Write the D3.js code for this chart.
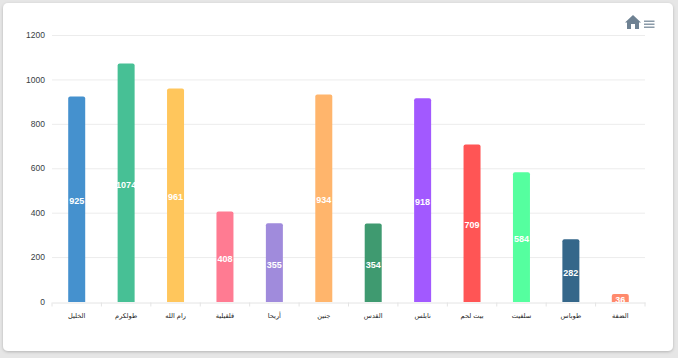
<!DOCTYPE html>
<html>
<head>
<meta charset="utf-8">
<script src="https://cdn.jsdelivr.net/npm/d3@7"></script>
<style>
  html, body { margin: 0; padding: 0; background: #e6e6e6; overflow: hidden; }
  svg { display: block; }
</style>
</head>
<body>
<div id="container"></div>
<script>
//data
let categories = ["الخليل", "طولكرم", "رام الله", "قلقيلية", "أريحا", "جنين", "القدس", "نابلس", "بيت لحم", "سلفيت", "طوباس", "الضفة"];
let values = [925, 1074, 961, 408, 355, 934, 354, 918, 709, 584, 282, 36];
let colors = ["#4591ce", "#47c095", "#ffc65c", "#ff7b92", "#a08bdc", "#ffb56c", "#3f9a70", "#a259ff", "#ff5555", "#55ff9f", "#35678a", "#ff8a6c"];
let yTicks = [0, 200, 400, 600, 800, 1000, 1200];

//settings
let w = 678;
let h = 358;

let viz = d3.select("#container")
  .append("svg")
    .attr("width", w)
    .attr("height", h)
;

//card with its soft shadow
let defs = viz.append("defs");
let shadow = defs.append("filter").attr("id", "cardShadow")
  .attr("x", "-5%").attr("y", "-5%").attr("width", "110%").attr("height", "110%");
shadow.append("feDropShadow")
  .attr("dx", 0).attr("dy", 1).attr("stdDeviation", 1.5)
  .attr("flood-color", "#000").attr("flood-opacity", 0.22);

viz.append("rect")
  .attr("x", 3)
  .attr("y", 3)
  .attr("width", 670)
  .attr("height", 348)
  .attr("rx", 5)
  .attr("fill", "white")
  .attr("filter", "url(#cardShadow)")
;

//scales
let xScale = d3.scaleBand()
    .domain(categories)
    .range([52, 645])
;
let yScale = d3.scaleLinear().domain([0, 1200]).range([302, 35.5]);

//grid lines
viz.append("g").selectAll("line").data(yTicks.slice(1)).enter()
  .append("line")
    .attr("x1", 52)
    .attr("x2", 645)
    .attr("y1", function(d){ return yScale(d); })
    .attr("y2", function(d){ return yScale(d); })
    .attr("stroke", "#ececec")
    .attr("stroke-width", 1)
;

//y axis labels
let yAxis = d3.axisLeft(yScale).tickValues(yTicks).tickSize(0).tickPadding(7).tickFormat(d3.format("d"));
let yAxisGroup = viz.append("g").attr("transform", "translate(52,-0.5)").call(yAxis);
yAxisGroup.select(".domain").remove();
yAxisGroup.selectAll("text")
  .attr("font-family", "'Liberation Sans', Arial, sans-serif")
  .attr("font-size", 8.5)
  .attr("fill", "#373d3f");

//x axis
let xAxis = d3.axisBottom(xScale).tickSize(4).tickSizeOuter(0).tickPadding(7);
let xAxisGroup = viz.append("g").attr("transform", "translate(0,302.5)").call(xAxis);
xAxisGroup.select(".domain").attr("stroke", "#e4e4e4");
xAxisGroup.selectAll("line").remove();
xAxisGroup.selectAll("text")
  .attr("font-family", "'DejaVu Sans', sans-serif")
  .attr("font-size", 6.6)
  .attr("fill", "#222");

//tick marks sit on the band edges, not the band centres
xAxisGroup.selectAll(".edgeTick").data(categories.concat("")).enter()
  .append("line")
    .classed("edgeTick", true)
    .attr("x1", function(d, i){ return 52 + i * xScale.step(); })
    .attr("x2", function(d, i){ return 52 + i * xScale.step(); })
    .attr("y1", 0)
    .attr("y2", 4)
    .attr("stroke", "#e4e4e4")
;

//bars
let barW = 17;
let graphGroup = viz.append("g").classed("graphGroup", true);
let datapoints = graphGroup.selectAll(".datapoint").data(values).enter()
  .append("g")
    .classed("datapoint", true)
    .attr("transform", function(d, i){
      return "translate(" + (xScale(categories[i]) + xScale.bandwidth() / 2) + ",0)";
    })
;
datapoints.append("path")
  .attr("d", function(d){
    let y0 = yScale(0), y1 = yScale(d), r = 2, b = barW / 2;
    return "M" + (-b) + "," + y0 + "V" + (y1 + r) + "Q" + (-b) + "," + y1 + " " + (-b + r) + "," + y1 +
      "H" + (b - r) + "Q" + b + "," + y1 + " " + b + "," + (y1 + r) + "V" + y0 + "Z";
  })
  .attr("fill", function(d, i){ return colors[i]; })
;
datapoints.append("text")
  .text(function(d){ return d; })
  .attr("y", function(d){ return (yScale(d) + yScale(0)) / 2 + 2; })
  .attr("dy", "0.35em")
  .attr("text-anchor", "middle")
  .attr("font-family", "'Liberation Sans', Arial, sans-serif")
  .attr("font-size", 9)
  .attr("font-weight", "bold")
  .attr("fill", "white")
;

//toolbar: home icon and menu icon
let toolbar = viz.append("g").attr("transform", "translate(625,15)");
toolbar.append("path")
  .attr("d", "M0,7.5 L8,0 L16,7.5 L14,7.5 L14,14 L10,14 L10,9 L6,9 L6,14 L2,14 L2,7.5 Z")
  .attr("fill", "#6e8192")
;
toolbar.selectAll(".menuLine").data([0, 1, 2]).enter()
  .append("rect")
    .classed("menuLine", true)
    .attr("x", 19)
    .attr("y", function(d){ return 5.5 + d * 3; })
    .attr("width", 10.5)
    .attr("height", 1.5)
    .attr("fill", "#8a9aa8")
;
</script>
</body>
</html>
